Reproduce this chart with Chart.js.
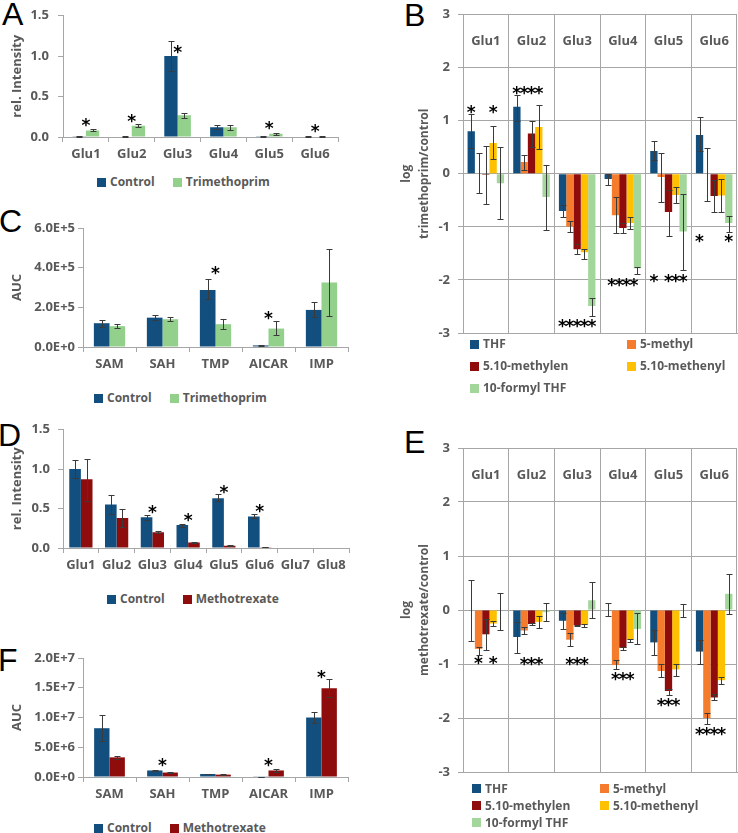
<!DOCTYPE html>
<html>
<head>
<meta charset="utf-8">
<script src="https://cdn.jsdelivr.net/npm/chart.js@4.4.1/dist/chart.umd.min.js"></script>
<style>
body { margin: 0; width: 738px; height: 833px; position: relative; background: #fff; overflow: hidden; font-family: 'Open Sans', sans-serif; }
canvas { position: absolute; }
.letter { position: absolute; font: 32px/32px 'Liberation Sans', Arial, sans-serif; color: #000; }
.legend { position: absolute; display: flex; align-items: center; font-weight: bold; font-size: 12px; line-height: 16px; color: #595959; white-space: nowrap; }
.legend .item { display: flex; align-items: center; margin-right: 18px; }
.legend i { display: inline-block; width: 9px; height: 9px; margin-right: 4px; }
.legend.grid { display: grid; align-items: center; }
</style>
</head>
<body>
<div class="letter" style="left:2px;top:-2px">A</div>
<div class="letter" style="left:404px;top:-1px">B</div>
<div class="letter" style="left:-1px;top:205px">C</div>
<div class="letter" style="left:-2px;top:419px">D</div>
<div class="letter" style="left:404px;top:426px">E</div>
<div class="letter" style="left:-2px;top:644px">F</div>

<canvas id="chartA" width="345" height="170" style="left:0;top:0"></canvas>
<canvas id="chartB" width="368" height="350" style="left:370px;top:0"></canvas>
<canvas id="chartC" width="355" height="170" style="left:0;top:210px"></canvas>
<canvas id="chartD" width="356" height="160" style="left:0;top:415px"></canvas>
<canvas id="chartE" width="368" height="360" style="left:370px;top:430px"></canvas>
<canvas id="chartF" width="355" height="165" style="left:0;top:640px"></canvas>

<div class="legend" id="legA" style="left:97px;top:174px"></div>
<div class="legend grid" id="legB" style="left:470px;top:333px;grid-template-columns:157px auto;grid-auto-rows:22px"></div>
<div class="legend" id="legC" style="left:94px;top:390px"></div>
<div class="legend" id="legD" style="left:107px;top:591px"></div>
<div class="legend grid" id="legE" style="left:472px;top:780px;grid-template-columns:128px auto;grid-auto-rows:17px"></div>
<div class="legend" id="legF" style="left:94px;top:820px"></div>

<script>
// categories
const glu6 = ['Glu1', 'Glu2', 'Glu3', 'Glu4', 'Glu5', 'Glu6'];
const glu8 = ['Glu1', 'Glu2', 'Glu3', 'Glu4', 'Glu5', 'Glu6', 'Glu7', 'Glu8'];
const metabolites = ['SAM', 'SAH', 'TMP', 'AICAR', 'IMP'];
const folates = ['THF', '5-methyl', '5.10-methylen', '5.10-methenyl', '10-formyl THF'];

// A - polyglutamates, trimethoprim
const aControl   = [0.010, 0.005, 1.00, 0.12, 0.010, 0.005];
const aControlHi = [0.015, 0.008, 1.18, 0.15, 0.015, 0.007];
const aControlLo = [0.005, 0.002, 0.81, 0.10, 0.005, 0.003];
const aTrim      = [0.08, 0.14, 0.27, 0.12, 0.04, 0.005];
const aTrimHi    = [0.095, 0.16, 0.30, 0.15, 0.05, 0.007];
const aTrimLo    = [0.07, 0.12, 0.23, 0.09, 0.03, 0.003];
// [category, first bar, last bar, y, text]
const aStars = [[0, 0, 1, 0.19, '*'], [1, 0, 1, 0.24, '*'], [2, 0, 1, 1.09, '*'], [4, 0, 1, 0.15, '*'], [5, 0, 1, 0.12, '*']];

// C - metabolites, trimethoprim
const cControl   = [1.20e5, 1.48e5, 2.88e5, 0.08e5, 1.87e5];
const cControlHi = [1.37e5, 1.62e5, 3.42e5, 0.10e5, 2.27e5];
const cControlLo = [1.02e5, 1.34e5, 2.40e5, 0.06e5, 1.50e5];
const cTrim      = [1.05e5, 1.40e5, 1.15e5, 0.93e5, 3.25e5];
const cTrimHi    = [1.17e5, 1.50e5, 1.40e5, 1.32e5, 4.92e5];
const cTrimLo    = [0.95e5, 1.30e5, 0.90e5, 0.60e5, 1.57e5];
const cStars = [[2, 0, 1, 3.93e5, '*'], [3, 0, 1, 1.63e5, '*']];

// D - polyglutamates, methotrexate
const dControl   = [1.00, 0.55, 0.39, 0.29, 0.63, 0.40, 0, 0];
const dControlHi = [1.12, 0.67, 0.42, 0.31, 0.68, 0.43, null, null];
const dControlLo = [0.88, 0.43, 0.36, 0.27, 0.59, 0.38, null, null];
const dMtx       = [0.87, 0.38, 0.20, 0.07, 0.03, 0.01, 0, 0];
const dMtxHi     = [1.13, 0.49, 0.21, 0.08, 0.035, 0.012, null, null];
const dMtxLo     = [0.60, 0.27, 0.19, 0.06, 0.025, 0.008, null, null];
const dStars = [[2, 0, 1, 0.50, '*'], [3, 0, 1, 0.40, '*'], [4, 0, 1, 0.75, '*'], [5, 0, 1, 0.51, '*']];

// F - metabolites, methotrexate
const fControl   = [8.2e6, 1.10e6, 0.50e6, 0.05e6, 1.00e7];
const fControlHi = [1.04e7, 1.15e6, 0.55e6, 0.06e6, 1.09e7];
const fControlLo = [6.0e6, 1.05e6, 0.45e6, 0.04e6, 0.91e7];
const fMtx       = [3.3e6, 0.75e6, 0.40e6, 1.10e6, 1.49e7];
const fMtxHi     = [3.55e6, 0.85e6, 0.45e6, 1.30e6, 1.65e7];
const fMtxLo     = [3.05e6, 0.65e6, 0.35e6, 0.90e6, 1.34e7];
const fStars = [[1, 0, 1, 2.6e6, '*'], [3, 0, 1, 2.6e6, '*'], [4, 0, 1, 1.74e7, '*']];

// B - log trimethoprim/control, rows follow folates
const bValues = [
  [0.80, 1.26, -0.70, -0.10, 0.43, 0.73],
  [-0.01, 0.22, -1.00, -0.78, -0.06, -0.01],
  [-0.02, 0.76, -1.42, -1.02, -0.72, -0.42],
  [0.58, 0.88, -1.48, -0.93, -0.40, -0.41],
  [-0.18, -0.44, -2.49, -1.78, -1.09, -0.93]
];
const bHigh = [
  [1.12, 1.49, -0.59, 0.00, 0.62, 1.06],
  [0.40, 0.36, -0.89, -0.44, 0.40, 0.49],
  [0.52, 1.00, -1.32, -0.92, -0.30, -0.12],
  [0.90, 1.30, -1.41, -0.81, -0.25, -0.10],
  [0.50, 0.16, -2.34, -1.75, -0.38, -0.80]
];
const bLow = [
  [0.48, 1.00, -0.81, -0.21, 0.26, 0.42],
  [-0.37, 0.08, -1.10, -1.12, -0.54, -0.52],
  [-0.57, 0.50, -1.52, -1.12, -1.17, -0.72],
  [0.28, 0.46, -1.60, -1.05, -0.56, -0.72],
  [-0.85, -1.06, -2.68, -1.89, -1.81, -1.09]
];
const bStars = [[0, 0, 0, 1.22, '*'], [0, 3, 3, 1.22, '*'], [1, 0, 3, 1.59, '****'], [2, 0, 4, -2.80, '*****'],
  [3, 0, 4, -2.03, '****'], [4, 0, 0, -1.96, '*'], [4, 2, 4, -1.96, '***'], [5, 0, 0, -1.20, '*'], [5, 4, 4, -1.20, '*']];

// E - log methotrexate/control
const eValues = [
  [-0.01, -0.50, -0.20, 0.00, -0.60, -0.77],
  [-0.72, -0.38, -0.55, -1.02, -1.13, -2.00],
  [-0.45, -0.26, -0.28, -0.70, -1.50, -1.62],
  [-0.25, -0.22, -0.28, -0.55, -1.10, -1.30],
  [0.00, -0.04, 0.18, -0.35, 0.00, 0.30]
];
const eHigh = [
  [0.55, -0.22, -0.06, 0.13, -0.37, -0.55],
  [-0.68, -0.32, -0.43, -0.93, -1.00, -1.90],
  [-0.17, -0.24, -0.27, -0.68, -1.47, -1.55],
  [-0.20, -0.12, -0.25, -0.53, -1.00, -1.25],
  [0.32, 0.13, 0.52, -0.05, 0.12, 0.67]
];
const eLow = [
  [-0.57, -0.80, -0.35, -0.12, -0.84, -1.00],
  [-0.83, -0.45, -0.67, -1.10, -1.25, -2.12],
  [-0.74, -0.28, -0.30, -0.74, -1.57, -1.67],
  [-0.30, -0.33, -0.32, -0.60, -1.22, -1.37],
  [-0.37, -0.20, -0.15, -0.63, -0.13, -0.07]
];
const eStars = [[0, 1, 1, -0.91, '*'], [0, 3, 3, -0.91, '*'], [1, 0, 4, -0.94, '***'], [2, 0, 4, -0.94, '***'],
  [3, 0, 4, -1.22, '***'], [4, 0, 4, -1.70, '***'], [5, 0, 3, -2.24, '****']];

const blue = '#134f7e';
const lightGreen = '#92d08c';
const darkRed = '#8e0c0c';
const folateColors = ['#134f7e', '#f47c2c', '#8e0c0c', '#ffc000', '#a3d69b'];
const textGray = '#595959';
const axisGray = '#a6a6a6';

const tickFont = {family: 'Open Sans', weight: 'bold', size: 13, lineHeight: 1.0};
const titleFont = {family: 'Open Sans', weight: 'bold', size: 13};

// error bars drawn on top of the bars
const errorBars = {
  id: 'errorBars',
  afterDatasetsDraw(chart, args, opts) {
    const ctx = chart.ctx;
    const y = chart.scales.y;
    const cap = opts.cap || 3;
    ctx.save();
    ctx.strokeStyle = '#3a3a3a';
    ctx.lineWidth = 1;
    chart.data.datasets.forEach((ds, i) => {
      if (!ds.hi) return;
      chart.getDatasetMeta(i).data.forEach((bar, j) => {
        if (ds.hi[j] == null) return;
        const x = Math.round(bar.x) + 0.5;
        const top = Math.round(y.getPixelForValue(ds.hi[j])) + 0.5;
        const bot = Math.round(y.getPixelForValue(ds.lo[j])) + 0.5;
        ctx.beginPath();
        ctx.moveTo(x, top); ctx.lineTo(x, bot);
        ctx.moveTo(x - cap, top); ctx.lineTo(x + cap, top);
        ctx.moveTo(x - cap, bot); ctx.lineTo(x + cap, bot);
        ctx.stroke();
      });
    });
    ctx.restore();
  }
};

// significance stars, centred over a run of bars
const starMarks = {
  id: 'starMarks',
  afterDatasetsDraw(chart, args, opts) {
    if (!opts.list) return;
    const ctx = chart.ctx;
    const y = chart.scales.y;
    ctx.save();
    ctx.fillStyle = '#000';
    ctx.font = 'bold 17px "DejaVu Sans"';
    ctx.letterSpacing = '-1.5px';
    ctx.textAlign = 'center';
    ctx.textBaseline = 'alphabetic';
    opts.list.forEach(([cat, from, to, val, text]) => {
      const x1 = chart.getDatasetMeta(from).data[cat].x;
      const x2 = chart.getDatasetMeta(to).data[cat].x;
      ctx.fillText(text, (x1 + x2) / 2 - 0.75, y.getPixelForValue(val) + 9.5);
    });
    ctx.restore();
  }
};

// category names written inside the plot (panels B and E)
const innerLabels = {
  id: 'innerLabels',
  afterDraw(chart, args, opts) {
    if (opts.value == null) return;
    const ctx = chart.ctx;
    const x = chart.scales.x, y = chart.scales.y;
    ctx.save();
    ctx.fillStyle = textGray;
    ctx.font = 'bold 13px "Open Sans"';
    ctx.textAlign = 'center';
    ctx.textBaseline = 'middle';
    chart.data.labels.forEach((lab, i) => {
      ctx.fillText(lab, x.getPixelForValue(i), y.getPixelForValue(opts.value));
    });
    ctx.restore();
  }
};

function sci(v) {
  if (v === 0) return '0.0E+0';
  const e = Math.floor(Math.log10(v) + 1e-9);
  return (v / Math.pow(10, e)).toFixed(1) + 'E+' + e;
}

function pairChart(id, cfg) {
  return new Chart(document.getElementById(id), {
    type: 'bar',
    data: {
      labels: cfg.labels,
      datasets: cfg.series.map(s => ({
        label: s.name, data: s.values, hi: s.hi, lo: s.lo,
        backgroundColor: s.color, categoryPercentage: cfg.catPct, barPercentage: 1
      }))
    },
    options: {
      responsive: false,
      animation: false,
      devicePixelRatio: 1,
      layout: {padding: {top: cfg.padTop, right: cfg.padRight, left: 0, bottom: 0}},
      plugins: {
        legend: {display: false},
        tooltip: {enabled: false},
        errorBars: {cap: 3},
        starMarks: {list: cfg.stars}
      },
      scales: {
        x: {
          grid: {drawOnChartArea: false, tickLength: 5, color: axisGray, offset: true},
          border: {color: axisGray},
          ticks: {font: tickFont, color: textGray, padding: 6, autoSkip: false, maxRotation: 0},
          afterFit: s => { s.height = cfg.xHeight; }
        },
        y: {
          min: 0, max: cfg.max,
          ticks: {stepSize: cfg.step, callback: cfg.fmt, font: tickFont, color: textGray, padding: cfg.tickPad},
          grid: {drawOnChartArea: false, tickLength: 5, color: axisGray},
          border: {color: axisGray},
          title: {display: true, text: cfg.title, font: titleFont, color: textGray, padding: {top: 9, bottom: 0}},
          afterFit: s => { s.width = cfg.yWidth; }
        }
      }
    },
    plugins: [errorBars, starMarks]
  });
}

function folateChart(id, cfg) {
  return new Chart(document.getElementById(id), {
    type: 'bar',
    data: {
      labels: glu6,
      datasets: folates.map((name, k) => ({
        label: name, data: cfg.values[k], hi: cfg.high[k], lo: cfg.low[k],
        backgroundColor: folateColors[k], categoryPercentage: 0.8, barPercentage: 1
      }))
    },
    options: {
      responsive: false,
      animation: false,
      devicePixelRatio: 1,
      layout: {padding: {top: cfg.padTop, right: 1, left: 0, bottom: 0}},
      plugins: {
        legend: {display: false},
        tooltip: {enabled: false},
        errorBars: {cap: 3},
        starMarks: {list: cfg.stars},
        innerLabels: {value: 2.5}
      },
      scales: {
        x: {
          ticks: {display: false},
          grid: {offset: true, color: axisGray, drawTicks: false},
          border: {color: axisGray},
          afterFit: s => { s.height = cfg.xHeight; }
        },
        y: {
          min: -3, max: 3,
          ticks: {stepSize: 1, font: tickFont, color: textGray, padding: 8},
          grid: {color: axisGray, tickLength: 5},
          border: {color: axisGray},
          title: {display: true, text: ['log', cfg.ratio], font: {family: 'Open Sans', weight: 'bold', size: 12, lineHeight: 1.45}, color: textGray, padding: {top: 28, bottom: 0}},
          afterFit: s => { s.width = 93; }
        }
      }
    },
    plugins: [errorBars, starMarks, innerLabels]
  });
}

function legend(id, names, colors) {
  const el = document.getElementById(id);
  names.forEach((n, i) => {
    const item = document.createElement('span');
    item.className = 'item';
    item.innerHTML = '<i style="background:' + colors[i] + '"></i>' + n;
    el.appendChild(item);
  });
}

pairChart('chartA', {
  labels: glu6, catPct: 0.58, padTop: 6, padRight: 7, xHeight: 33, yWidth: 63,
  max: 1.5, step: 0.5, fmt: v => v.toFixed(1), tickPad: 9, title: 'rel. Intensity', stars: aStars,
  series: [
    {name: 'Control', values: aControl, hi: aControlHi, lo: aControlLo, color: blue},
    {name: 'Trimethoprim', values: aTrim, hi: aTrimHi, lo: aTrimLo, color: lightGreen}
  ]
});

pairChart('chartC', {
  labels: metabolites, catPct: 0.59, padTop: 18, padRight: 7, xHeight: 33, yWidth: 83,
  max: 6e5, step: 2e5, fmt: sci, tickPad: 3, title: 'AUC', stars: cStars,
  series: [
    {name: 'Control', values: cControl, hi: cControlHi, lo: cControlLo, color: blue},
    {name: 'Trimethoprim', values: cTrim, hi: cTrimHi, lo: cTrimLo, color: lightGreen}
  ]
});

pairChart('chartD', {
  labels: glu8, catPct: 0.65, padTop: 14, padRight: 7, xHeight: 27, yWidth: 63,
  max: 1.5, step: 0.5, fmt: v => v.toFixed(1), tickPad: 8, title: 'rel. Intensity', stars: dStars,
  series: [
    {name: 'Control', values: dControl, hi: dControlHi, lo: dControlLo, color: blue},
    {name: 'Methotrexate', values: dMtx, hi: dMtxHi, lo: dMtxLo, color: darkRed}
  ]
});

pairChart('chartF', {
  labels: metabolites, catPct: 0.58, padTop: 18, padRight: 7, xHeight: 28, yWidth: 83,
  max: 2e7, step: 5e6, fmt: sci, tickPad: 3, title: 'AUC', stars: fStars,
  series: [
    {name: 'Control', values: fControl, hi: fControlHi, lo: fControlLo, color: blue},
    {name: 'Methotrexate', values: fMtx, hi: fMtxHi, lo: fMtxLo, color: darkRed}
  ]
});

folateChart('chartB', {values: bValues, high: bHigh, low: bLow, stars: bStars, ratio: 'trimethoprim/control', padTop: 11, xHeight: 17});
folateChart('chartE', {values: eValues, high: eHigh, low: eLow, stars: eStars, ratio: 'methotrexate/control', padTop: 18, xHeight: 18});

legend('legA', ['Control', 'Trimethoprim'], [blue, lightGreen]);
legend('legC', ['Control', 'Trimethoprim'], [blue, lightGreen]);
legend('legD', ['Control', 'Methotrexate'], [blue, darkRed]);
legend('legF', ['Control', 'Methotrexate'], [blue, darkRed]);
legend('legB', folates, folateColors);
legend('legE', folates, folateColors);
</script>
</body>
</html>
